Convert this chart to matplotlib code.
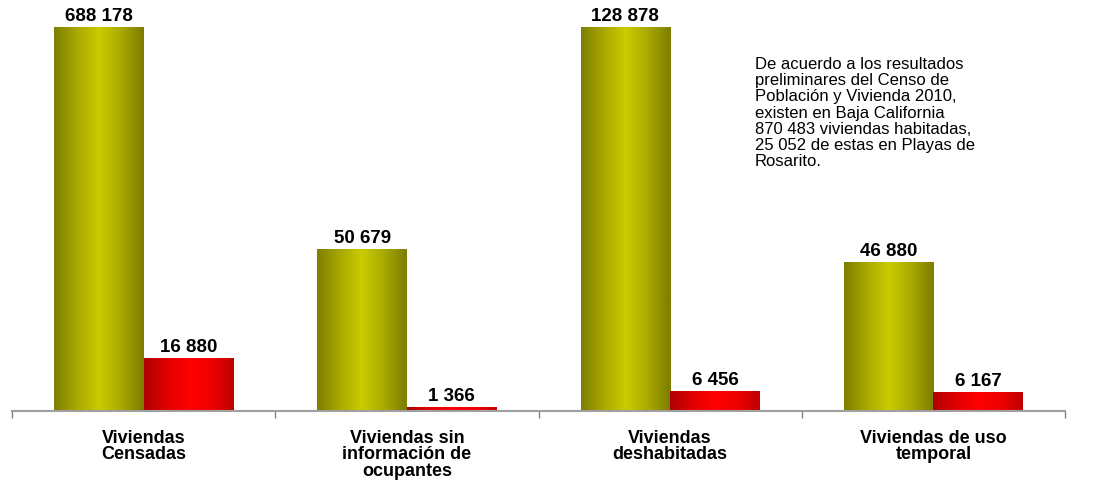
import matplotlib.pyplot as plt
import numpy as np
from matplotlib.colors import LinearSegmentedColormap

plt.rcParams['font.family'] = ['Liberation Sans', 'DejaVu Sans']

categorias = ["Viviendas\nCensadas", "Viviendas sin\ninformación de\nocupantes",
              "Viviendas\ndeshabitadas", "Viviendas de uso\ntemporal"]
baja_california = [688178, 50679, 128878, 46880]
playas_rosarito = [16880, 1366, 6456, 6167]
# bar heights as drawn in the original (not to scale with the values)
alto_bc = [384, 162, 384, 149]
alto_pr = [53, 4, 20, 19]

nota = ("De acuerdo a los resultados\npreliminares del Censo de\n"
        "Población y Vivienda 2010,\nexisten en Baja California\n"
        "870 483 viviendas habitadas,\n25 052 de estas en Playas de\nRosarito.")

def etiqueta(v):
    return f"{v:,}".replace(",", " ")

olivo = LinearSegmentedColormap.from_list("olivo", ["#7f7f00", "#a8a800", "#cccc00", "#a9a900", "#7d7d00"])
rojo = LinearSegmentedColormap.from_list("rojo", ["#b00000", "#e00000", "#ff0000", "#f00000", "#c00000"])

fig = plt.figure(figsize=(11.14, 4.81), dpi=100)
ax = fig.add_axes([12 / 1114, 69 / 481, 1053 / 1114, 412 / 481])

x = np.arange(len(categorias))
w = 0.34
grad = np.linspace(0, 1, 64).reshape(1, -1)

def barras(xs, alturas, valores, cmap):
    bars = ax.bar(xs, alturas, w, color="none", edgecolor="none")
    for b, v in zip(bars, valores):
        x0, h = b.get_x(), b.get_height()
        im = ax.imshow(grad, cmap=cmap, aspect="auto", extent=[x0, x0 + w, 0, h],
                       interpolation="bilinear", zorder=2)
        im.set_clip_path(b)
        ax.text(x0 + w / 2, h + 3, etiqueta(v), ha="center", va="bottom",
                fontsize=13.5, fontweight="bold")

barras(x - w / 2, alto_bc, baja_california, olivo)
barras(x + w / 2, alto_pr, playas_rosarito, rojo)

ax.set_xlim(-0.5, len(categorias) - 0.5)
ax.set_ylim(0, 412)
for s in ["top", "right", "left"]:
    ax.spines[s].set_visible(False)
ax.spines["bottom"].set_color("#a0a0a0")
ax.spines["bottom"].set_linewidth(1.5)
ax.set_yticks([])
ax.set_xticks(np.arange(-0.5, len(categorias)), minor=False)
ax.set_xticklabels([])
ax.tick_params(axis="x", length=5, color="#808080", width=1)
ax.set_xticks(x, minor=True)
ax.set_xticklabels(categorias, minor=True, fontsize=13, fontweight="bold", linespacing=0.95)
ax.tick_params(axis="x", which="minor", length=0, pad=13)

fig.text(755 / 1114, 1 - 57 / 481, nota, ha="left", va="top", fontsize=12, linespacing=1.1)

fig.savefig("out.png", dpi=100)
